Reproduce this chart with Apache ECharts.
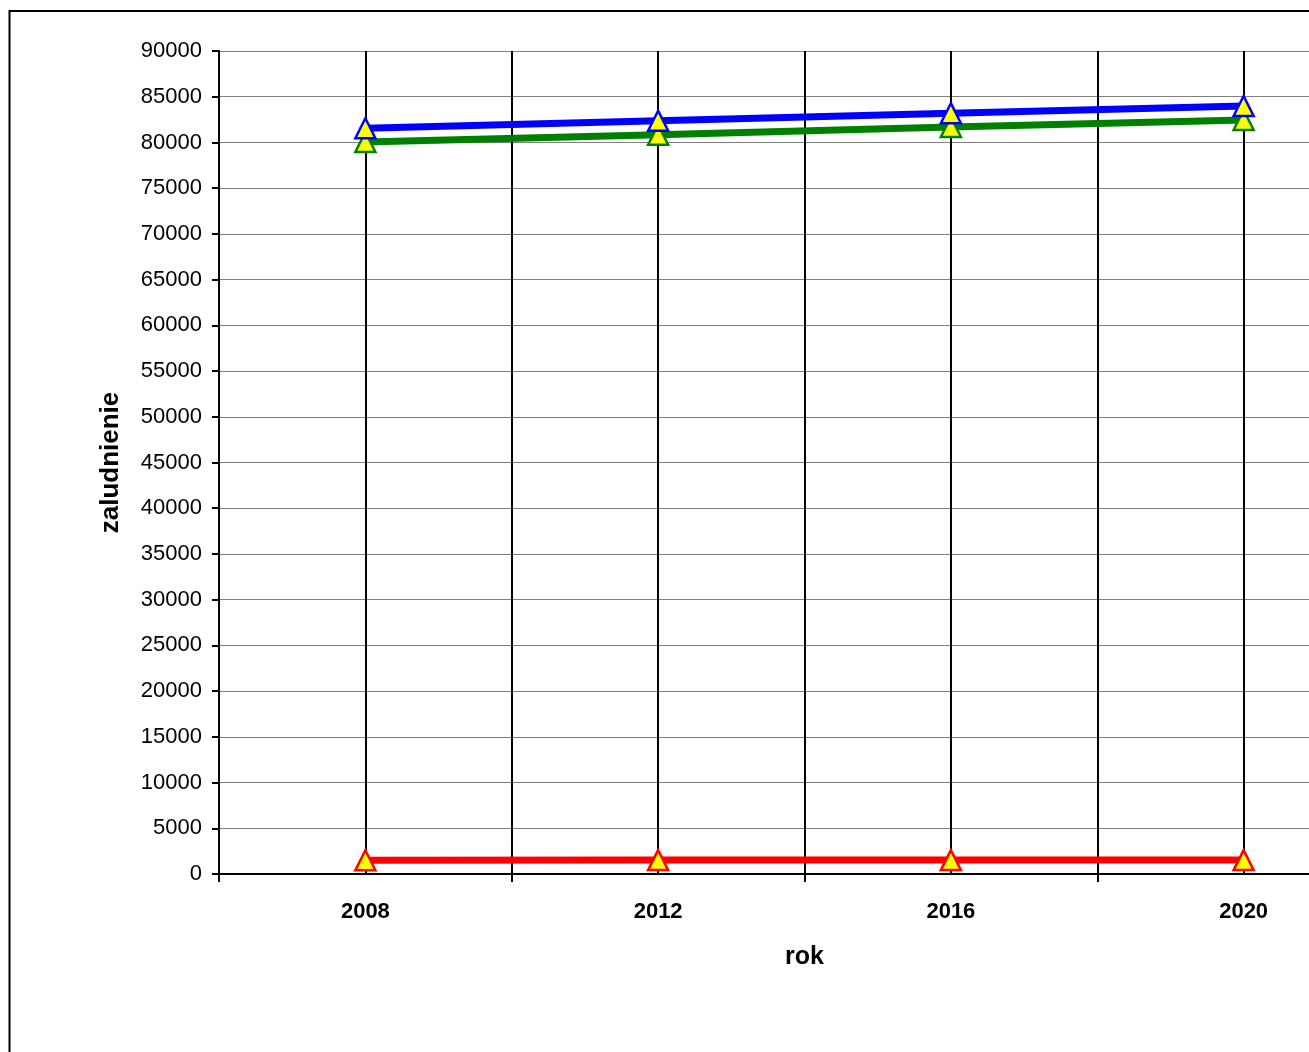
<!DOCTYPE html>
<html>
<head>
<meta charset="utf-8">
<script src="https://cdn.jsdelivr.net/npm/echarts@6/dist/echarts.min.js"></script>
<style>
  html, body { margin: 0; padding: 0; background: #fff; overflow: hidden; }
  #chart { width: 1400px; height: 1052px; }
</style>
</head>
<body>
<div id="chart"></div>
<script>
const years = ['2008', '2012', '2016', '2020'];
const totalPop = [81550, 82380, 83200, 83980];
const cityPop = [80050, 80850, 81700, 82450];
const otherPop = [1500, 1520, 1520, 1520];
const yMax = 90000;
const yStep = 5000;

// the plot in the original runs past the right edge of the picture,
// so the canvas is wider than the window and gets cut off
const chart = echarts.init(document.getElementById('chart'));
const font = 'Liberation Sans, Arial, sans-serif';

function lineSeries(name, data, color, z) {
    return {
        name: name,
        type: 'line',
        data: data,
        z: z,
        symbol: 'triangle',
        symbolSize: 20,
        showSymbol: true,
        lineStyle: { color: color, width: 7 },
        itemStyle: { color: '#ffff00', borderColor: color, borderWidth: 2.5 },
        emphasis: { disabled: true },
        animation: false,
    };
}

const option = {
    backgroundColor: '#fff',
    animation: false,
    graphic: [
        {
            type: 'rect',
            shape: { x: 9.5, y: 11, width: 1500, height: 1100 },
            style: { fill: null, stroke: '#000', lineWidth: 2 },
            silent: true,
            z: 100,
        },
    ],
    grid: {
        left: 219,
        top: 51,
        bottom: 178,
        right: 10,
        containLabel: false,
    },
    xAxis: {
        type: 'category',
        data: years,
        boundaryGap: true,
        name: 'rok',
        nameLocation: 'middle',
        nameGap: 71,
        nameTextStyle: { fontFamily: font, fontSize: 25, fontWeight: 'bold', color: '#000' },
        axisLine: { lineStyle: { color: '#000', width: 2 } },
        axisTick: { show: true, length: 8, lineStyle: { color: '#000', width: 2 } },
        axisLabel: { fontFamily: font, fontSize: 22, fontWeight: 'bold', color: '#000', margin: 27 },
        splitLine: { show: true, lineStyle: { color: '#000', width: 2 } },
    },
    yAxis: {
        type: 'value',
        min: 0,
        max: yMax,
        interval: yStep,
        name: 'zaludnienie',
        nameLocation: 'middle',
        nameGap: 95,
        nameTextStyle: { fontFamily: font, fontSize: 26, fontWeight: 'bold', color: '#000' },
        axisLine: { show: true, lineStyle: { color: '#000', width: 2 } },
        axisTick: { show: true, length: 7, lineStyle: { color: '#000', width: 2 } },
        axisLabel: {
            fontFamily: font,
            fontSize: 22,
            color: '#000',
            margin: 17,
            formatter: (v) => String(v),
        },
        splitLine: { show: true, lineStyle: { color: '#808080', width: 1 } },
    },
    series: [
        Object.assign(lineSeries('inne', otherPop, '#ff0000', 2), {
            markLine: {
                silent: true,
                symbol: 'none',
                label: { show: false },
                lineStyle: { color: '#000', width: 2, type: 'solid' },
                data: years.map((y) => ({ xAxis: y })),
                z: 1,
            },
        }),
        lineSeries('miasto', cityPop, '#008000', 3),
        lineSeries('razem', totalPop, '#0000ff', 4),
    ],
};

chart.setOption(option);
</script>
</body>
</html>
